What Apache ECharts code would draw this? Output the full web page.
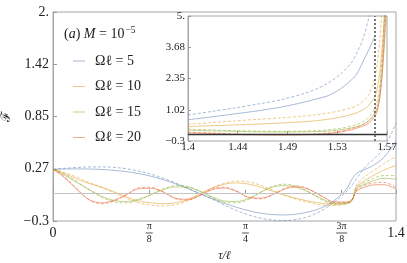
<!DOCTYPE html>
<html><head><meta charset="utf-8">
<script src="https://cdn.jsdelivr.net/npm/echarts@6/dist/echarts.min.js"></script>
<style>html,body{margin:0;padding:0;background:#fff}#c{width:407px;height:263px}</style>
</head><body><div id="c"></div>
<script>
// ---- data ----
const tauMain = [0,0.05,0.1,0.15,0.2,0.25,0.3,0.35,0.4,0.45,0.5,0.55,0.6,0.65,0.7,0.75,0.8,0.85,0.9,0.95,1.0,1.05,1.1,1.15,1.2,1.22,1.24,1.27,1.3,1.35,1.4];
const w5Solid  = [0.27,0.272,0.273,0.272,0.267,0.257,0.243,0.222,0.193,0.155,0.11,0.057,0.0,-0.055,-0.105,-0.15,-0.188,-0.215,-0.23,-0.233,-0.222,-0.195,-0.15,-0.07,0.06,0.16,0.225,0.265,0.3,0.4,0.58];
const w5Dash   = [0.27,0.28,0.29,0.295,0.295,0.29,0.275,0.25,0.215,0.17,0.12,0.06,0.0,-0.06,-0.125,-0.185,-0.235,-0.27,-0.29,-0.295,-0.28,-0.245,-0.18,-0.09,0.03,0.09,0.17,0.28,0.36,0.5,0.78];
const w10Solid = [0.27,0.22,0.16,0.11,0.07,0.02,-0.035,-0.08,-0.1,-0.11,-0.1,-0.065,0.0,0.065,0.105,0.12,0.105,0.07,0.025,-0.02,-0.055,-0.085,-0.105,-0.115,-0.1,-0.07,0.08,0.14,0.19,0.26,0.31];
const w10Dash  = [0.27,0.23,0.18,0.12,0.07,0.01,-0.05,-0.1,-0.125,-0.135,-0.12,-0.08,-0.01,0.06,0.115,0.14,0.13,0.09,0.035,-0.02,-0.065,-0.1,-0.125,-0.13,-0.11,-0.07,0.1,0.18,0.24,0.33,0.41];
const w15Solid = [0.27,0.2,0.12,0.04,-0.03,-0.075,-0.085,-0.06,-0.01,0.045,0.075,0.07,0.025,-0.035,-0.08,-0.085,-0.05,0.02,0.075,0.09,0.065,0.01,-0.06,-0.105,-0.1,-0.075,0.06,0.1,0.135,0.17,0.16];
const w15Dash  = [0.27,0.21,0.13,0.04,-0.04,-0.09,-0.1,-0.07,-0.01,0.055,0.09,0.08,0.03,-0.04,-0.095,-0.1,-0.06,0.02,0.085,0.105,0.075,0.01,-0.07,-0.115,-0.11,-0.08,0.07,0.12,0.16,0.2,0.2];
const w20Solid = [0.27,0.17,0.04,-0.07,-0.1,-0.07,-0.01,0.055,0.06,0.02,-0.05,-0.06,-0.02,0.045,0.062,0.025,-0.04,-0.048,-0.005,0.055,0.075,0.04,-0.03,-0.09,-0.09,-0.065,0.03,0.07,0.095,0.1,0.05];
const w20Dash  = [0.27,0.18,0.05,-0.07,-0.11,-0.08,-0.01,0.065,0.07,0.02,-0.055,-0.07,-0.02,0.055,0.072,0.03,-0.045,-0.055,-0.005,0.065,0.085,0.045,-0.035,-0.1,-0.1,-0.07,0.04,0.09,0.115,0.125,0.07];

const tauInset = [1.4,1.42,1.44,1.46,1.48,1.5,1.51,1.52,1.53,1.54,1.545,1.55,1.555,1.5605,1.5625,1.5645,1.5665,1.568,1.5695,1.5708];
const w5SolidIn  = [0.6,0.72,0.85,0.98,1.14,1.35,1.48,1.62,1.88,2.28,2.55,3.05,3.55,4.15,null,null,null,null,null,null];
const w5DashIn   = [0.8,0.95,1.1,1.27,1.45,1.72,1.9,2.15,2.5,3.0,3.45,4.0,4.9,6.5,null,null,null,null,null,null];
const w10SolidIn = [0.31,0.35,0.38,0.42,0.46,0.52,0.56,0.62,0.7,0.82,0.9,1.02,1.2,1.6,1.95,2.6,3.6,4.6,5.8,7];
const w10DashIn  = [0.41,0.48,0.55,0.62,0.68,0.76,0.81,0.88,0.98,1.1,1.2,1.38,1.65,2.4,3.0,3.9,5.2,6.5,8,9];
const w15SolidIn = [0.16,0.13,0.11,0.09,0.08,0.09,0.1,0.12,0.17,0.25,0.31,0.4,0.55,0.85,1.05,1.5,2.4,3.4,4.6,6];
const w15DashIn  = [0.2,0.17,0.14,0.12,0.11,0.12,0.14,0.17,0.23,0.33,0.4,0.52,0.7,1.1,1.4,2.0,3.2,4.5,6,7];
const w20SolidIn = [0.05,0.02,-0.02,-0.04,-0.045,-0.035,-0.02,0.01,0.07,0.17,0.25,0.33,0.45,0.75,1.0,1.5,2.5,3.6,5,6.5];
const w20DashIn  = [0.07,0.04,0.0,-0.02,-0.03,-0.02,0.0,0.04,0.11,0.22,0.3,0.4,0.55,0.9,1.2,1.8,2.9,4.2,5.6,7];

const seriesNames = ['Ωℓ = 5','Ωℓ = 10','Ωℓ = 15','Ωℓ = 20'];
const horizonTau = [1.5608];

const xTicksMain = [0, Math.PI/8, Math.PI/4, 3*Math.PI/8, 1.4];
const xLabelsMain = ['{big|0}','{n|π}\n{b| }\n{d|8}','{n|π}\n{b| }\n{d|4}','{n|3π}\n{w| }\n{d|8}','{big|1.4}'];
const yTicksMain = [-0.3, 0.275, 0.85, 1.425, 2.0];
const yLabelsMain = ['−0.3','0.27','0.85','1.42','2.'];
const xTicksInset = [1.4, 1.4+(Math.PI/2-1.4)/4, 1.4+(Math.PI/2-1.4)/2, 1.4+3*(Math.PI/2-1.4)/4, Math.PI/2];
const xLabelsInset = ['1.4','1.44','1.49','1.53','1.57'];
const yTicksInset = [-0.3, 1.025, 2.35, 3.675, 5];
const yLabelsInset = ['−0.3','1.02','2.35','3.68','5.'];

// ---- chart ----
const FONT = 'Liberation Serif';
const colors = ['rgba(94,129,181,0.55)','rgba(225,156,36,0.55)','rgba(143,176,50,0.55)','rgba(235,98,53,0.55)'];
const mainSets = [[w5Solid,w5Dash],[w10Solid,w10Dash],[w15Solid,w15Dash],[w20Solid,w20Dash]];
const insetSets = [[w5SolidIn,w5DashIn],[w10SolidIn,w10DashIn],[w15SolidIn,w15DashIn],[w20SolidIn,w20DashIn]];
const pair = (xs, ys) => xs.map((x, i) => [x, ys[i]]);
const lookup = (ticks, labels) => (v) => { const k = ticks.findIndex(t => Math.abs(t - v) < 1e-6); return k < 0 ? '' : labels[k]; };

const series = [];
mainSets.forEach((set, i) => {
  series.push({ name: seriesNames[i], type: 'line', xAxisIndex: 0, yAxisIndex: 0, data: pair(tauMain, set[0]),
    showSymbol: false, smooth: 0.35, color: colors[i], lineStyle: { width: 1, color: colors[i] }, z: 3,
    markLine: i === 0 ? { silent: true, symbol: 'none', label: { show: false }, data: [{ yAxis: 0 }], lineStyle: { color: '#c4c4c4', width: 1, type: 'solid' } } : undefined });
  series.push({ name: seriesNames[i] + ' ', type: 'line', xAxisIndex: 0, yAxisIndex: 0, data: pair(tauMain, set[1]),
    showSymbol: false, smooth: 0.35, color: colors[i], lineStyle: { width: 1, color: colors[i], type: [3, 2] }, z: 3 });
});
insetSets.forEach((set, i) => {
  series.push({ name: seriesNames[i], type: 'line', xAxisIndex: 1, yAxisIndex: 1, data: pair(tauInset, set[0]),
    showSymbol: false, smooth: 0.3, color: colors[i], lineStyle: { width: 1, color: colors[i] }, z: 3 });
  series.push({ name: seriesNames[i] + ' ', type: 'line', xAxisIndex: 1, yAxisIndex: 1, data: pair(tauInset, set[1]),
    showSymbol: false, smooth: 0.3, color: colors[i], lineStyle: { width: 1, color: colors[i], type: [3, 2] }, z: 3 });
});
series.push({ type: 'line', xAxisIndex: 1, yAxisIndex: 1, data: [], z: 4,
  markLine: { silent: true, symbol: 'none', label: { show: false }, data: [
    { yAxis: 0, lineStyle: { color: '#333', width: 1.4, type: 'solid' } },
    { xAxis: horizonTau[0], lineStyle: { color: '#777', width: 2, type: [2, 2] } }
  ] } });

const axisCommon = (extra) => Object.assign({
  type: 'value', splitLine: { show: false },
  axisLine: { show: true, lineStyle: { color: '#a6a6a6', width: 1 } },
}, extra);

const chart = echarts.init(document.getElementById('c'), null, { renderer: 'canvas' });
chart.setOption({
  animation: false,
  backgroundColor: '#fff',
  title: {
    left: 59, top: 20,
    text: '{a|(}{i|a}{a|) }{i|M}{a| = 10}{s|−5}',
    textStyle: { fontWeight: 'normal', rich: {
      a: { fontFamily: FONT, fontSize: 14, fontWeight: 'normal', color: '#222', lineHeight: 18 },
      i: { fontFamily: FONT, fontSize: 14, fontWeight: 'normal', fontStyle: 'italic', color: '#222', lineHeight: 18 },
      s: { fontFamily: FONT, fontSize: 9.5, fontWeight: 'normal', color: '#222', lineHeight: 18, verticalAlign: 'top', padding: [0, 0, 7, 1] }
    } }
  },
  legend: {
    data: seriesNames, orient: 'vertical', left: 68, top: 49, itemWidth: 12, itemHeight: 1, itemGap: 11.5,
    icon: 'rect', selectedMode: false,
    textStyle: { fontFamily: FONT, fontSize: 14, color: '#222', lineHeight: 14, padding: [0, 0, 0, 5] }
  },
  grid: [
    { left: 53, top: 12, width: 343, height: 209, show: true, borderColor: '#a6a6a6', borderWidth: 1, containLabel: false, outerBoundsMode: 'none' },
    { left: 188, top: 16, width: 199, height: 125, show: true, borderColor: '#a6a6a6', borderWidth: 1, containLabel: false, outerBoundsMode: 'none' }
  ],
  xAxis: [
    axisCommon({ gridIndex: 0, min: 0, max: 1.4,
      axisTick: { show: true, inside: true, length: 4, customValues: xTicksMain, lineStyle: { color: '#999' } },
      axisLabel: { customValues: xTicksMain, formatter: lookup(xTicksMain, xLabelsMain), margin: 12, verticalAlign: 'middle',
        fontFamily: FONT, fontSize: 14, color: '#222',
        rich: {
          big: { fontFamily: FONT, fontSize: 14, color: '#222' },
          n: { fontFamily: FONT, fontSize: 10, lineHeight: 10, color: '#222', align: 'center' },
          d: { fontFamily: FONT, fontSize: 10, lineHeight: 10, color: '#222', align: 'center' },
          b: { fontSize: 1, width: 7, height: 1, lineHeight: 3, backgroundColor: '#555', align: 'center' },
          w: { fontSize: 1, width: 11, height: 1, lineHeight: 3, backgroundColor: '#555', align: 'center' }
        } },
      name: 'τ/ℓ', nameLocation: 'middle', nameGap: 35,
      nameTextStyle: { fontFamily: FONT, fontSize: 12, fontStyle: 'italic', color: '#222', verticalAlign: 'middle' } }),
    axisCommon({ gridIndex: 1, min: 1.4, max: Math.PI / 2,
      axisTick: { show: true, inside: true, length: 3, customValues: xTicksInset, lineStyle: { color: '#999' } },
      axisLabel: { customValues: xTicksInset, formatter: lookup(xTicksInset, xLabelsInset), margin: 6, verticalAlign: 'middle',
        fontFamily: FONT, fontSize: 11, color: '#222' } })
  ],
  yAxis: [
    axisCommon({ gridIndex: 0, min: -0.3, max: 2,
      axisTick: { show: true, inside: true, length: 4, customValues: yTicksMain, lineStyle: { color: '#999' } },
      axisLabel: { customValues: yTicksMain, formatter: lookup(yTicksMain, yLabelsMain), margin: 4,
        fontFamily: FONT, fontSize: 14, color: '#222' },
      name: 'ℱ', nameLocation: 'middle', nameGap: 38, nameRotate: 90,
      nameTextStyle: { fontFamily: FONT, fontSize: 13, color: '#222' } }),
    axisCommon({ gridIndex: 1, min: -0.3, max: 5,
      axisTick: { show: true, inside: true, length: 3, customValues: yTicksInset, lineStyle: { color: '#999' } },
      axisLabel: { customValues: yTicksInset, formatter: lookup(yTicksInset, yLabelsInset), margin: 3,
        fontFamily: FONT, fontSize: 11, color: '#222' } })
  ],
  series: series
});
</script>
</body></html>
